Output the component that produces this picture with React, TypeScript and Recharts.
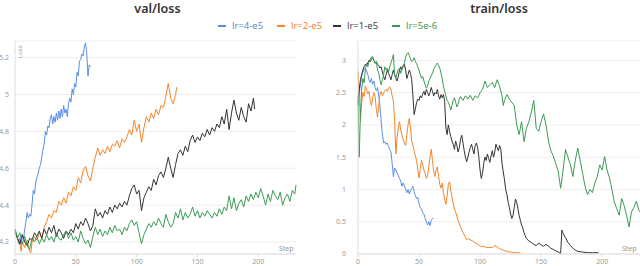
import { LineChart, Line, XAxis, YAxis, CartesianGrid } from "recharts";

// [step, loss] pairs
const valLr4: [number, number][] = [
  [0, 4.27], [2, 4.23], [3, 4.19], [4, 4.22], [5, 4.18], [6, 4.24], [7, 4.21], [8, 4.27], [9, 4.31], [10, 4.36],
  [11, 4.33], [12, 4.35], [13, 4.34], [14, 4.4], [15, 4.48], [16, 4.46], [17, 4.52], [18, 4.55], [19, 4.57], [20, 4.6],
  [21, 4.62], [22, 4.66], [23, 4.7], [24, 4.73], [25, 4.8], [26, 4.78], [27, 4.83], [28, 4.82], [29, 4.87], [30, 4.89],
  [31, 4.84], [32, 4.88], [33, 4.85], [34, 4.9], [35, 4.86], [36, 4.91], [37, 4.87], [38, 4.92], [39, 4.88], [40, 4.94],
  [41, 4.9], [42, 4.92], [43, 4.88], [44, 4.95], [45, 4.98], [46, 4.96], [47, 5.03], [48, 5.0], [49, 5.06], [50, 5.04],
  [51, 5.12], [52, 5.1], [53, 5.18], [54, 5.19], [55, 5.22], [56, 5.21], [57, 5.26], [58, 5.28], [59, 5.22], [60, 5.1],
  [61, 5.16], [62, 5.15],
];
const valLr2: [number, number][] = [
  [0, 4.25], [2, 4.22], [4, 4.19], [5, 4.15], [6, 4.2], [8, 4.17], [10, 4.21], [12, 4.15], [13, 4.14], [14, 4.2],
  [16, 4.23], [18, 4.21], [20, 4.25], [22, 4.22], [24, 4.28], [26, 4.31], [28, 4.35], [30, 4.33], [32, 4.37], [34, 4.36],
  [36, 4.42], [38, 4.4], [40, 4.44], [42, 4.41], [44, 4.47], [46, 4.45], [48, 4.5], [50, 4.48], [52, 4.55], [54, 4.52],
  [56, 4.59], [58, 4.61], [60, 4.56], [62, 4.53], [64, 4.6], [66, 4.66], [68, 4.71], [70, 4.67], [72, 4.7], [74, 4.68],
  [76, 4.72], [78, 4.69], [80, 4.73], [82, 4.72], [84, 4.75], [86, 4.71], [88, 4.76], [90, 4.74], [92, 4.77], [94, 4.81],
  [96, 4.78], [98, 4.86], [100, 4.8], [102, 4.84], [104, 4.74], [106, 4.82], [108, 4.88], [110, 4.85], [112, 4.9],
  [114, 4.87], [116, 4.92], [118, 4.89], [120, 4.94], [122, 4.93], [124, 4.99], [126, 5.06], [128, 4.98], [130, 4.95],
  [132, 5.0], [133, 5.04],
];
const valLr1: [number, number][] = [
  [0, 4.26], [2, 4.22], [4, 4.19], [6, 4.24], [8, 4.2], [10, 4.18], [12, 4.22], [14, 4.21], [16, 4.25], [18, 4.23],
  [20, 4.26], [22, 4.22], [24, 4.27], [26, 4.24], [28, 4.28], [30, 4.25], [32, 4.29], [34, 4.23], [36, 4.27], [38, 4.25],
  [40, 4.22], [42, 4.26], [44, 4.24], [46, 4.27], [48, 4.25], [50, 4.3], [52, 4.27], [54, 4.31], [56, 4.29], [58, 4.33],
  [60, 4.3], [62, 4.26], [64, 4.29], [66, 4.38], [68, 4.34], [70, 4.36], [72, 4.33], [74, 4.37], [76, 4.35], [78, 4.39],
  [80, 4.36], [82, 4.4], [84, 4.38], [86, 4.41], [88, 4.39], [90, 4.42], [92, 4.4], [94, 4.45], [96, 4.49], [98, 4.51],
  [100, 4.46], [102, 4.48], [104, 4.37], [106, 4.44], [108, 4.47], [110, 4.5], [112, 4.48], [114, 4.54], [116, 4.51],
  [118, 4.56], [120, 4.58], [122, 4.55], [124, 4.6], [126, 4.66], [128, 4.6], [130, 4.55], [132, 4.62], [134, 4.68],
  [136, 4.7], [138, 4.67], [140, 4.72], [142, 4.69], [144, 4.75], [146, 4.78], [148, 4.74], [150, 4.77], [152, 4.75],
  [154, 4.79], [156, 4.77], [158, 4.81], [160, 4.78], [162, 4.82], [164, 4.8], [166, 4.84], [168, 4.82], [170, 4.88],
  [172, 4.84], [174, 4.92], [176, 4.81], [178, 4.9], [180, 4.97], [182, 4.9], [184, 4.86], [186, 4.93], [188, 4.88],
  [190, 4.85], [192, 4.95], [194, 4.91], [196, 4.98], [197, 4.92],
];
const valLr5e6: [number, number][] = [
  [0, 4.27], [2, 4.22], [4, 4.25], [6, 4.19], [8, 4.23], [10, 4.18], [12, 4.16], [14, 4.22], [16, 4.2], [18, 4.23],
  [20, 4.19], [22, 4.22], [24, 4.2], [26, 4.24], [28, 4.21], [30, 4.23], [32, 4.2], [34, 4.25], [36, 4.22], [38, 4.21],
  [40, 4.24], [42, 4.26], [44, 4.22], [46, 4.25], [48, 4.21], [50, 4.23], [52, 4.2], [54, 4.26], [56, 4.22], [58, 4.19],
  [60, 4.21], [62, 4.17], [64, 4.23], [66, 4.28], [68, 4.24], [70, 4.27], [72, 4.23], [74, 4.26], [76, 4.24], [78, 4.28],
  [80, 4.25], [82, 4.29], [84, 4.26], [86, 4.27], [88, 4.24], [90, 4.28], [92, 4.26], [94, 4.3], [96, 4.32], [98, 4.29],
  [100, 4.31], [102, 4.25], [104, 4.19], [106, 4.24], [108, 4.27], [110, 4.3], [112, 4.28], [114, 4.31], [116, 4.29],
  [118, 4.33], [120, 4.3], [122, 4.28], [124, 4.35], [126, 4.31], [128, 4.28], [130, 4.3], [132, 4.36], [134, 4.33],
  [136, 4.38], [138, 4.32], [140, 4.36], [142, 4.33], [144, 4.35], [146, 4.39], [148, 4.34], [150, 4.37], [152, 4.33],
  [154, 4.36], [156, 4.34], [158, 4.37], [160, 4.35], [162, 4.33], [164, 4.36], [166, 4.34], [168, 4.38], [170, 4.35],
  [172, 4.39], [174, 4.37], [176, 4.45], [178, 4.38], [180, 4.44], [182, 4.37], [184, 4.41], [186, 4.43], [188, 4.39],
  [190, 4.45], [192, 4.42], [194, 4.46], [196, 4.43], [198, 4.47], [200, 4.44], [202, 4.49], [204, 4.45], [206, 4.4],
  [208, 4.46], [210, 4.42], [212, 4.48], [214, 4.45], [216, 4.43], [218, 4.47], [220, 4.4], [222, 4.44], [224, 4.46],
  [226, 4.42], [228, 4.48], [230, 4.46], [231, 4.51],
];

const trainLr4: [number, number][] = [
  [0, 2.35], [1, 2.5], [2, 2.62], [3, 2.75], [4, 2.82], [5, 2.86], [6, 2.88], [7, 2.84], [8, 2.78], [9, 2.7],
  [10, 2.66], [11, 2.72], [12, 2.63], [13, 2.68], [14, 2.58], [15, 2.53], [16, 2.58], [17, 2.45], [18, 2.28], [19, 2.05],
  [20, 1.85], [21, 1.72], [22, 1.74], [23, 1.7], [24, 1.72], [25, 1.67], [26, 1.62], [27, 1.58], [28, 1.4], [29, 1.2],
  [30, 1.33], [31, 1.3], [32, 1.26], [33, 1.22], [34, 1.17], [35, 1.13], [36, 1.05], [37, 1.1], [38, 1.06], [39, 1.0],
  [40, 0.95], [41, 1.0], [42, 0.93], [43, 0.98], [44, 1.02], [45, 1.05], [46, 0.97], [47, 0.9], [48, 0.86], [49, 0.88],
  [50, 0.78], [51, 0.72], [52, 0.7], [53, 0.64], [54, 0.62], [55, 0.55], [56, 0.5], [57, 0.45], [58, 0.5], [59, 0.44],
  [60, 0.52], [61, 0.55], [62, 0.56],
];
const trainLr2: [number, number][] = [
  [0, 2.83], [1, 2.45], [2, 2.05], [3, 2.35], [4, 2.5], [5, 2.44], [6, 2.6], [7, 2.55], [8, 2.48], [9, 2.52],
  [10, 2.38], [11, 2.3], [12, 2.42], [13, 2.5], [14, 2.44], [15, 2.25], [16, 2.12], [17, 2.3], [18, 2.48], [19, 2.52],
  [20, 2.45], [21, 2.5], [22, 2.53], [23, 2.55], [24, 2.52], [25, 2.57], [26, 2.59], [27, 2.55], [28, 2.45], [29, 2.38],
  [30, 2.05], [31, 1.55], [32, 1.8], [33, 1.95], [34, 2.05], [35, 1.92], [36, 1.84], [37, 1.78], [38, 1.72], [39, 1.68],
  [40, 1.85], [41, 2.0], [42, 2.1], [43, 1.95], [44, 1.75], [45, 1.68], [46, 1.6], [47, 1.52], [48, 1.45], [49, 1.3],
  [50, 1.18], [51, 1.32], [52, 1.45], [53, 1.38], [54, 1.3], [55, 1.25], [56, 1.17], [57, 1.22], [58, 1.35], [59, 1.5],
  [60, 1.62], [61, 1.45], [62, 1.28], [63, 1.2], [64, 1.3], [65, 1.35], [66, 1.2], [67, 1.08], [68, 1.02], [69, 1.1],
  [70, 0.95], [71, 0.85], [72, 0.77], [73, 0.9], [74, 1.08], [75, 1.12], [76, 0.98], [77, 0.88], [78, 0.78], [79, 0.7],
  [80, 0.65], [82, 0.52], [84, 0.42], [86, 0.33], [88, 0.26], [89, 0.22], [90, 0.24], [92, 0.22], [94, 0.2], [96, 0.17],
  [98, 0.15], [100, 0.12], [102, 0.12], [104, 0.11], [106, 0.1], [108, 0.1], [110, 0.1], [112, 0.13], [114, 0.11],
  [116, 0.08], [118, 0.07], [120, 0.05], [122, 0.04], [124, 0.03], [126, 0.03], [128, 0.02], [130, 0.02], [132, 0.02],
  [133, 0.02],
];
const trainLr1: [number, number][] = [
  [0, 2.3], [1, 2.55], [2, 2.7], [3, 2.78], [4, 2.85], [5, 2.9], [6, 2.94], [7, 2.92], [8, 2.96], [9, 3.0],
  [10, 2.98], [11, 3.02], [12, 3.04], [13, 3.0], [14, 2.96], [15, 2.98], [16, 2.94], [17, 2.92], [18, 2.88], [19, 2.9],
  [20, 2.82], [21, 2.75], [22, 2.7], [23, 2.78], [24, 2.85], [25, 2.8], [26, 2.75], [27, 2.7], [28, 2.78], [29, 2.85],
  [30, 2.78], [31, 2.72], [32, 2.68], [33, 2.75], [34, 2.85], [35, 2.9], [36, 2.86], [37, 2.92], [38, 2.94], [39, 2.85],
  [40, 2.72], [41, 2.78], [42, 2.85], [43, 2.8], [44, 2.7], [45, 2.45], [46, 2.16], [47, 2.25], [48, 2.35], [49, 2.4],
  [50, 2.38], [51, 2.45], [52, 2.42], [53, 2.48], [54, 2.52], [55, 2.46], [56, 2.55], [57, 2.5], [58, 2.45], [59, 2.5],
  [60, 2.58], [61, 2.52], [62, 2.45], [63, 2.5], [64, 2.48], [65, 2.55], [66, 2.45], [67, 2.4], [68, 2.47], [69, 2.42],
  [70, 2.47], [71, 2.36], [72, 1.95], [73, 1.85], [74, 2.0], [75, 1.9], [76, 1.82], [77, 1.75], [78, 1.7], [79, 1.62],
  [80, 1.75], [81, 1.68], [82, 1.58], [83, 1.65], [84, 1.78], [85, 1.84], [86, 1.72], [87, 1.6], [88, 1.5], [89, 1.43],
  [90, 1.5], [91, 1.58], [92, 1.65], [93, 1.7], [94, 1.62], [95, 1.55], [96, 1.68], [97, 1.72], [98, 1.65], [99, 1.5],
  [100, 1.3], [101, 1.17], [102, 1.25], [103, 1.4], [104, 1.5], [105, 1.45], [106, 1.55], [107, 1.48], [108, 1.42],
  [109, 1.52], [110, 1.6], [111, 1.5], [112, 1.58], [113, 1.7], [114, 1.65], [115, 1.6], [116, 1.68], [117, 1.62],
  [118, 1.4], [119, 1.27], [120, 1.15], [121, 1.0], [122, 0.92], [123, 0.8], [124, 0.72], [125, 0.62], [126, 0.55],
  [127, 0.6], [128, 0.72], [129, 0.85], [130, 0.8], [131, 0.7], [132, 0.6], [133, 0.52], [134, 0.45], [135, 0.4],
  [136, 0.33], [137, 0.28], [138, 0.24], [140, 0.2], [142, 0.18], [144, 0.15], [146, 0.13], [148, 0.17], [150, 0.14],
  [152, 0.12], [154, 0.15], [156, 0.12], [158, 0.09], [160, 0.07], [162, 0.05], [164, 0.03], [166, 0.01], [167, 0.37],
  [168, 0.32], [170, 0.25], [172, 0.18], [174, 0.13], [176, 0.09], [178, 0.06], [180, 0.04], [184, 0.03], [188, 0.02],
  [192, 0.02], [197, 0.02],
];
const trainLr5e6: [number, number][] = [
  [0, 2.45], [1, 1.5], [2, 2.2], [3, 2.55], [4, 2.72], [5, 2.65], [6, 2.85], [7, 2.95], [8, 2.9], [9, 2.98],
  [10, 3.02], [11, 3.05], [12, 3.06], [13, 3.0], [14, 2.95], [15, 2.98], [16, 2.85], [17, 2.8], [18, 2.7], [19, 2.62],
  [20, 2.7], [21, 2.78], [22, 2.9], [23, 2.85], [24, 2.88], [25, 2.82], [26, 2.9], [27, 2.96], [28, 3.02], [29, 3.09],
  [30, 2.78], [31, 2.72], [32, 2.8], [33, 2.86], [34, 2.88], [35, 2.8], [36, 2.86], [37, 2.9], [38, 2.96], [39, 3.05],
  [40, 3.1], [41, 3.12], [42, 3.08], [43, 3.02], [44, 2.98], [45, 3.0], [46, 3.04], [47, 2.98], [48, 2.95], [49, 2.9],
  [50, 2.85], [51, 2.78], [52, 2.72], [53, 2.75], [54, 2.68], [55, 2.62], [56, 2.57], [57, 2.6], [58, 2.68], [59, 2.72],
  [60, 2.76], [61, 2.8], [62, 2.86], [63, 2.9], [64, 2.93], [65, 2.96], [66, 2.92], [67, 2.88], [68, 2.8], [69, 2.72],
  [70, 2.6], [71, 2.52], [72, 2.45], [73, 2.38], [74, 2.35], [75, 2.3], [76, 2.23], [77, 2.3], [78, 2.38], [79, 2.42],
  [80, 2.35], [81, 2.28], [82, 2.32], [83, 2.4], [84, 2.44], [86, 2.38], [88, 2.45], [90, 2.4], [92, 2.46], [94, 2.38],
  [96, 2.45], [98, 2.42], [100, 2.5], [102, 2.55], [104, 2.68], [106, 2.58], [108, 2.62], [110, 2.66], [112, 2.58],
  [114, 2.7], [116, 2.6], [118, 2.45], [119, 2.3], [120, 2.38], [122, 2.47], [124, 2.4], [126, 2.35], [128, 2.3],
  [130, 2.0], [132, 1.85], [134, 2.05], [136, 1.74], [138, 1.95], [140, 2.05], [142, 2.2], [144, 2.38], [146, 1.95],
  [148, 1.9], [150, 2.05], [152, 2.17], [154, 2.0], [156, 1.75], [158, 1.6], [160, 1.52], [162, 1.4], [164, 1.28],
  [166, 1.02], [168, 1.3], [170, 1.62], [172, 1.5], [174, 1.38], [176, 1.2], [178, 1.45], [180, 1.64], [182, 1.45],
  [184, 1.25], [186, 1.05], [188, 0.92], [190, 1.0], [192, 0.95], [194, 1.1], [196, 1.2], [198, 1.38], [200, 1.3],
  [202, 1.51], [204, 1.3], [206, 1.18], [208, 1.0], [210, 0.8], [212, 0.7], [214, 0.6], [216, 0.86], [218, 0.75],
  [220, 0.6], [222, 0.42], [224, 0.65], [226, 0.72], [228, 0.82], [230, 0.68], [231, 0.65],
];

const seriesNames = ["lr=4-e5", "lr=2-e5", "lr=1-e5", "lr=5e-6"];
const seriesColors = ["#5a8ee6", "#f5852a", "#333333", "#3d9a55"];
const valSeries = [valLr4, valLr2, valLr1, valLr5e6];
const trainSeries = [trainLr4, trainLr2, trainLr1, trainLr5e6];

const stepTicks = [0, 50, 100, 150, 200];
const valTicks = [4.2, 4.4, 4.6, 4.8, 5, 5.2];
const trainTicks = [0, 0.5, 1, 1.5, 2, 2.5, 3];

const font = "'Noto Sans', 'Open Sans', sans-serif";
const tickStyle = { fontSize: 7, fill: "#999", fontFamily: font };

const toRows = (pts: [number, number][]) => pts.map(([step, loss]) => ({ step, loss }));

function Panel(props: {
  series: [number, number][][];
  domain: [number, number];
  ticks: number[];
  yWidth: number;
  yMargin: number;
  right: number;
}) {
  return (
    <LineChart width={320} height={266} margin={{ top: 41, right: props.right, bottom: 0, left: 0 }}>
      <CartesianGrid vertical={false} stroke="#eeeeee" />
      <XAxis
        dataKey="step"
        type="number"
        domain={[0, 231]}
        ticks={stepTicks}
        allowDuplicatedCategory={false}
        height={12}
        stroke="#dddddd"
        tickSize={3}
        tickMargin={2}
        tick={tickStyle}
      />
      <YAxis
        type="number"
        domain={props.domain}
        ticks={props.ticks}
        width={props.yWidth}
        stroke="#dddddd"
        tickLine={false}
        tickSize={0}
        tickMargin={props.yMargin}
        tick={tickStyle}
        allowDataOverflow
      />
      {props.series.map((pts, i) => (
        <Line
          key={seriesNames[i]}
          data={toRows(pts)}
          dataKey="loss"
          type="linear"
          stroke={seriesColors[i]}
          strokeWidth={1}
          dot={false}
          isAnimationActive={false}
        />
      ))}
    </LineChart>
  );
}

export default function App() {
  const small = { position: "absolute" as const, fontSize: 7, color: "#999", fontFamily: font };
  const title = {
    position: "absolute" as const,
    top: 2,
    lineHeight: "14px",
    textAlign: "center" as const,
    fontFamily: font,
    fontWeight: 600,
    fontSize: 12.5,
    color: "#333",
  };
  return (
    <div style={{ position: "absolute", left: 0, top: 0, width: 640, height: 266, background: "#fff", overflow: "hidden" }}>
      <div style={{ position: "absolute", left: 0, top: 0 }}>
        <Panel series={valSeries} domain={[4.135, 5.29]} ticks={valTicks} yWidth={15} yMargin={6} right={24} />
      </div>
      <div style={{ position: "absolute", left: 320, top: 0 }}>
        <Panel series={trainSeries} domain={[0, 3.3]} ticks={trainTicks} yWidth={38} yMargin={12} right={0} />
      </div>
      <div style={{ ...title, left: 15, width: 285 }}>val/loss</div>
      <div style={{ ...title, left: 358, width: 282 }}>train/loss</div>
      {seriesNames.map((name, i) => (
        <div
          key={name}
          style={{
            position: "absolute",
            left: [218, 277, 333, 392][i],
            top: 19,
            display: "flex",
            alignItems: "center",
            fontFamily: font,
            fontSize: 9.5,
            color: seriesColors[i] === "#333333" ? "#444" : seriesColors[i],
          }}
        >
          <span style={{ display: "inline-block", width: 8, height: 2, background: seriesColors[i], marginRight: 6 }} />
          {name}
        </div>
      ))}
      <div style={{ ...small, left: 16, top: 58, transform: "rotate(-90deg)", transformOrigin: "left top", fontSize: 6 }}>Loss</div>
      <div style={{ ...small, left: 279, top: 244 }}>Step</div>
      <div style={{ ...small, left: 622, top: 244 }}>Step</div>
    </div>
  );
}
